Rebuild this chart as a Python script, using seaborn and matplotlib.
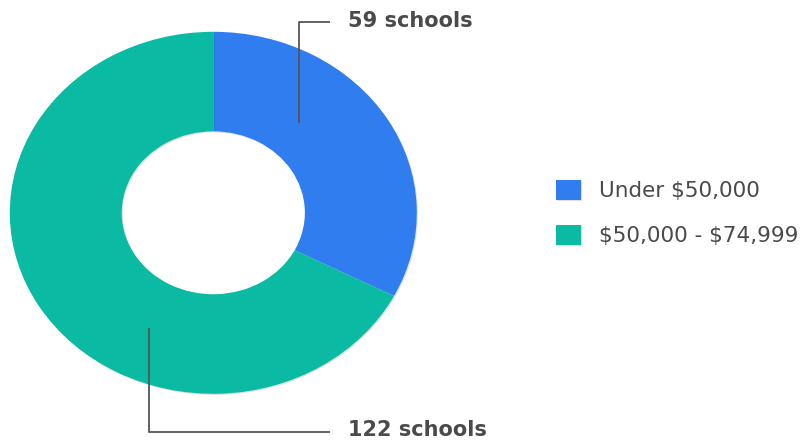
import matplotlib
matplotlib.use("Agg")
import matplotlib.pyplot as plt
import matplotlib.patheffects as pe
import seaborn as sns

categories = ["Under \\$50,000", "\\$50,000 - \\$74,999"]
schools = [59, 122]
label_texts = ["59 schools", "122 schools"]
colors = ["#2F7DEE", "#0BBAA3"]

sns.set_theme(style="white")
plt.rcParams["font.family"] = ["DejaVu Sans"]

W, H = 805, 443
fig = plt.figure(figsize=(W / 100, H / 100), dpi=100)
fig.patch.set_facecolor("white")

# donut axes (elliptical, as in reference)
cx, cy, rx, ry = 213.3, 212.8, 203.5, 181.0
ax = fig.add_axes([(cx - rx) / W, (H - cy - ry) / H, 2 * rx / W, 2 * ry / H])
wedges, _ = ax.pie(
    schools, colors=colors, startangle=90, counterclock=False,
    radius=1.0, wedgeprops=dict(width=0.55, linewidth=0),
)
for w in wedges:
    w.set_path_effects([pe.SimplePatchShadow(offset=(0.8, -0.8), shadow_rgbFace="black", alpha=0.12),
                        pe.Normal()])
ax.set_xlim(-1, 1)
ax.set_ylim(-1, 1)
ax.set_aspect("auto")
ax.axis("off")

# overlay axes in pixel coordinates for leader lines & labels
ov = fig.add_axes([0, 0, 1, 1])
ov.set_xlim(0, W)
ov.set_ylim(H, 0)
ov.axis("off")
ov.patch.set_alpha(0)

text_color = "#4A4A4A"
line_color = "#555555"
leaders = [
    [(299, 123), (299, 21.5), (330, 21.5)],
    [(148.5, 328), (148.5, 431.5), (330, 431.5)],
]
label_pos = [(348, 21), (348, 430)]
for pts, (tx, ty), txt in zip(leaders, label_pos, label_texts):
    xs, ys = zip(*pts)
    ov.plot(xs, ys, color=line_color, lw=1.3, solid_capstyle="butt")
    ov.text(tx, ty, txt, fontsize=15, fontweight="bold", color=text_color,
            ha="left", va="center")

fs = 15.5
leg = fig.legend(
    wedges, categories, loc="center left",
    bbox_to_anchor=(556 / W, (H - 213) / H),
    frameon=False, fontsize=fs, handlelength=1.16, handleheight=1.07,
    handletextpad=0.84, labelspacing=1.1, borderpad=0, borderaxespad=0,
    labelcolor=text_color,
)

fig.savefig("out.png", dpi=100, facecolor="white")
